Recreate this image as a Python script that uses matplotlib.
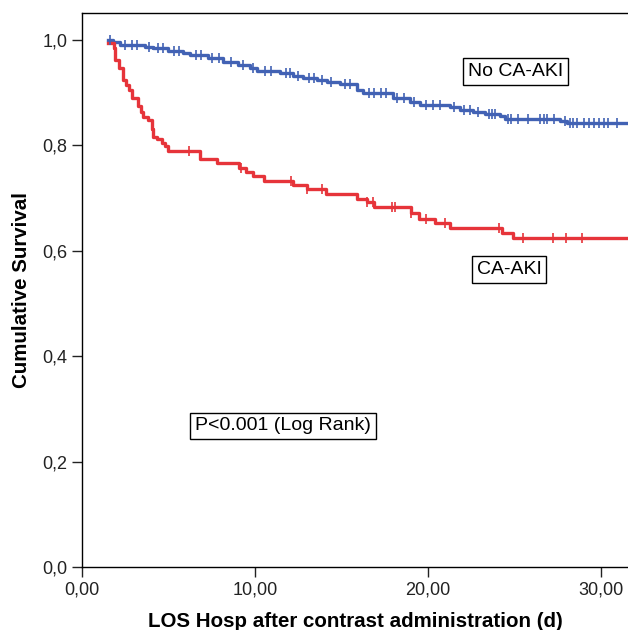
import matplotlib
matplotlib.use("Agg")
import matplotlib.pyplot as plt
from matplotlib.ticker import FuncFormatter

plt.rcParams["font.family"] = ["Liberation Sans", "DejaVu Sans"]

# Kaplan-Meier step curves (time in days, cumulative survival)
no_aki_t = [1.52, 1.79, 2.20, 3.64, 4.10, 4.97, 5.84, 6.24, 7.28, 8.15, 9.02, 9.71,
            10.12, 11.45, 12.20, 12.77, 13.58, 14.16, 14.91, 15.90, 16.24, 17.98,
            18.96, 19.54, 21.27, 21.85, 22.60, 23.29, 24.16, 24.45, 27.63, 28.03, 31.6]
no_aki_s = [1.000, 0.996, 0.991, 0.987, 0.984, 0.980, 0.976, 0.972, 0.965, 0.959,
            0.953, 0.946, 0.941, 0.938, 0.932, 0.927, 0.924, 0.920, 0.916, 0.906,
            0.900, 0.889, 0.883, 0.877, 0.873, 0.868, 0.864, 0.859, 0.855, 0.851,
            0.847, 0.843, 0.843]
no_aki_cens = [1.6, 2.5, 2.9, 3.2, 3.9, 4.4, 4.7, 5.3, 5.6, 6.6, 6.9, 7.5, 7.9, 8.6,
               9.3, 9.9, 10.6, 10.9, 11.8, 12.0, 12.5, 13.1, 13.4, 13.9, 14.4, 15.2,
               15.5, 16.6, 16.9, 17.3, 17.6, 18.2, 18.6, 19.2, 19.9, 20.3, 20.7, 21.5,
               22.1, 22.4, 22.9, 23.5, 23.7, 23.9, 24.6, 24.8, 25.2, 25.8, 26.5, 26.7,
               26.9, 27.3, 27.9, 28.2, 28.4, 28.6, 29.0, 29.3, 29.6, 29.9, 30.2, 30.4,
               30.9]

aki_t = [1.50, 1.85, 1.91, 2.16, 2.39, 2.54, 2.73, 2.87, 3.25, 3.39, 3.54, 3.83,
         4.03, 4.12, 4.32, 4.61, 4.80, 4.99, 6.8, 7.8, 9.1, 9.5, 9.9, 10.5, 12.2,
         13.0, 14.1, 15.9, 16.5, 16.9, 19.0, 19.5, 20.4, 21.3, 24.3, 24.9, 31.6]
aki_s = [0.995, 0.985, 0.962, 0.946, 0.924, 0.915, 0.905, 0.889, 0.875, 0.864,
         0.854, 0.848, 0.832, 0.815, 0.813, 0.804, 0.798, 0.790, 0.774, 0.766,
         0.757, 0.749, 0.742, 0.732, 0.725, 0.717, 0.707, 0.699, 0.693, 0.684,
         0.672, 0.661, 0.652, 0.644, 0.633, 0.624, 0.624]
aki_cens = [6.2, 9.2, 12.1, 13.0, 13.9, 16.5, 16.8, 17.9, 18.1, 19.0, 19.9, 21.0,
            24.1, 25.5, 27.2, 28.0, 28.9]

BLUE = "#4262B4"
RED = "#E6343A"


def step_value(ts, ss, x):
    v = ss[0]
    for t, s in zip(ts, ss):
        if t <= x:
            v = s
    return v


fig = plt.figure(figsize=(6.28, 6.30), dpi=100)
ax = fig.add_axes([82 / 628, 63 / 630, 1 - 82 / 628, (567 - 13) / 630])

ax.step(no_aki_t, no_aki_s, where="post", color=BLUE, lw=2.4)
ax.step(aki_t, aki_s, where="post", color=RED, lw=2.4)
ax.plot(no_aki_cens, [step_value(no_aki_t, no_aki_s, c) for c in no_aki_cens],
        ls="none", marker="|", ms=7, mew=1.2, color=BLUE)
ax.plot(aki_cens, [step_value(aki_t, aki_s, c) for c in aki_cens],
        ls="none", marker="|", ms=7, mew=1.2, color=RED)

ax.set_xlim(0, 31.56)
ax.set_ylim(0, 1.0512)
ax.set_xticks([0, 10, 20, 30])
ax.set_yticks([0, 0.2, 0.4, 0.6, 0.8, 1.0])
ax.xaxis.set_major_formatter(FuncFormatter(lambda v, p: f"{v:.2f}".replace(".", ",")))
ax.yaxis.set_major_formatter(FuncFormatter(lambda v, p: f"{v:.1f}".replace(".", ",")))
ax.tick_params(direction="out", length=7, width=1, labelsize=13, colors="#222222")
ax.spines["right"].set_visible(False)
for sp in ["left", "bottom", "top"]:
    ax.spines[sp].set_linewidth(1.0)

ax.set_xlabel("LOS Hosp after contrast administration (d)", fontsize=14.8,
              fontweight="bold", labelpad=10)
ax.set_ylabel("Cumulative Survival", fontsize=14.8, fontweight="bold", labelpad=8)

box = dict(boxstyle="square,pad=0.25", fc="white", ec="black", lw=1)
ax.text(25.06, 0.940, "No CA-AKI", fontsize=14, ha="center", va="center", bbox=box)
ax.text(24.68, 0.5645, "CA-AKI", fontsize=14, ha="center", va="center", bbox=box)
ax.text(11.62, 0.2676, "P<0.001 (Log Rank)", fontsize=14, ha="center", va="center", bbox=box)

fig.savefig("out.png", dpi=100)
